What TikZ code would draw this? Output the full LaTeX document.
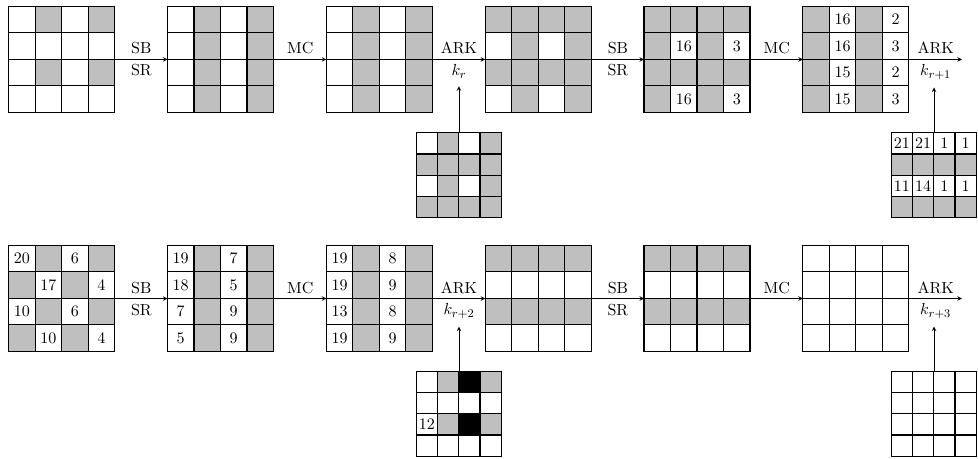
\documentclass[tikz,border=0pt]{standalone}
\usepackage{tikz}

\colorlet{G}{black!25}
\colorlet{W}{white}
\colorlet{B}{black}

% 4x4 state: name, centre, cell size, cells row by row (fill/number)
\newcommand{\stategrid}[4]{%
  \node[minimum size=4*#3, inner sep=0pt] (#1) at (#2) {};
  \foreach \f/\t [count=\k from 0] in {#4} {
    \pgfmathsetmacro{\cx}{mod(\k,4)*#3}
    \pgfmathsetmacro{\cy}{-floor(\k/4)*#3}
    \draw[cellline, fill=\f] ([shift={(\cx,\cy)}]#1.north west) rectangle ++(#3,-#3);
    \node[cellnum] at ([shift={(\cx+0.5*#3,\cy-0.5*#3)}]#1.north west) {\t};
  }%
}

\begin{document}
\begin{tikzpicture}[x=1pt, y=1pt, font=\fontsize{10.95}{13}\selectfont,
    cellline/.style={thick},
    cellnum/.style={inner sep=0pt},
    flow/.style={->, >=stealth},
    keyflow/.style={->, >=stealth, shorten >=2pt}]
  \useasboundingbox (0,0) rectangle (668,313.5);

  % Round r and r+1
  \stategrid{a1}{42.3,272.9}{18.1}{W/,G/,W/,G/, W/,W/,W/,W/, W/,G/,W/,G/, W/,W/,W/,W/}
  \stategrid{a2}{150.8,272.9}{18.1}{W/,G/,W/,G/, W/,G/,W/,G/, W/,G/,W/,G/, W/,G/,W/,G/}
  \stategrid{a3}{259.3,272.9}{18.1}{W/,G/,W/,G/, W/,G/,W/,G/, W/,G/,W/,G/, W/,G/,W/,G/}
  \stategrid{a4}{367.8,272.9}{18.1}{G/,G/,G/,G/, W/,G/,W/,G/, G/,G/,G/,G/, W/,G/,W/,G/}
  \stategrid{a5}{476.3,272.9}{18.1}{G/,G/,G/,G/, G/,W/16,G/,W/3, G/,G/,G/,G/, G/,W/16,G/,W/3}
  \stategrid{a6}{584.8,272.9}{18.1}{G/,W/16,G/,W/2, G/,W/16,G/,W/3, G/,W/15,G/,W/2, G/,W/15,G/,W/3}
  \coordinate (aend) at (657,272.9);

  \draw[flow] (a1.east) -- node[above] (sb1) {SB} node[below] (sr1) {SR} (a2.west);
  \draw[flow] (a2.east) -- node[above] (mc1) {MC} (a3.west);
  \draw[flow] (a3.east) -- node[above] (ark1) {ARK} node[below] (kr1) {$k_r$} (a4.west);
  \draw[flow] (a4.east) -- node[above] (sb2) {SB} node[below] (sr2) {SR} (a5.west);
  \draw[flow] (a5.east) -- node[above] (mc2) {MC} (a6.west);
  \draw[flow] (a6.east) -- node[above] (ark2) {ARK} node[below] (kr2) {$k_{r+1}$} (aend);

  % Round keys
  \stategrid{key1}{313.5,193.6}{14.5}{W/,G/,W/,G/, G/,G/,G/,G/, W/,G/,W/,G/, G/,G/,G/,G/}
  \stategrid{key2}{638,193.6}{14.5}{W/21,W/21,W/1,W/1, G/,G/,G/,G/, W/11,W/14,W/1,W/1, G/,G/,G/,G/}
  \draw[keyflow] (key1.north) -- (key1.north |- kr1.south);
  \draw[keyflow] (key2.north) -- (key2.north |- kr2.south);

  % Round r+2 and r+3
  \stategrid{b1}{42.3,109.6}{18.1}{W/20,G/,W/6,G/, G/,W/17,G/,W/4, W/10,G/,W/6,G/, G/,W/10,G/,W/4}
  \stategrid{b2}{150.8,109.6}{18.1}{W/19,G/,W/7,G/, W/18,G/,W/5,G/, W/7,G/,W/9,G/, W/5,G/,W/9,G/}
  \stategrid{b3}{259.3,109.6}{18.1}{W/19,G/,W/8,G/, W/19,G/,W/9,G/, W/13,G/,W/8,G/, W/19,G/,W/9,G/}
  \stategrid{b4}{367.8,109.6}{18.1}{G/,G/,G/,G/, W/,W/,W/,W/, G/,G/,G/,G/, W/,W/,W/,W/}
  \stategrid{b5}{476.3,109.6}{18.1}{G/,G/,G/,G/, W/,W/,W/,W/, G/,G/,G/,G/, W/,W/,W/,W/}
  \stategrid{b6}{584.8,109.6}{18.1}{W/,W/,W/,W/, W/,W/,W/,W/, W/,W/,W/,W/, W/,W/,W/,W/}
  \coordinate (bend) at (657,109.6);

  \draw[flow] (b1.east) -- node[above] (sb3) {SB} node[below] (sr3) {SR} (b2.west);
  \draw[flow] (b2.east) -- node[above] (mc3) {MC} (b3.west);
  \draw[flow] (b3.east) -- node[above] (ark3) {ARK} node[below] (kr3) {$k_{r+2}$} (b4.west);
  \draw[flow] (b4.east) -- node[above] (sb4) {SB} node[below] (sr4) {SR} (b5.west);
  \draw[flow] (b5.east) -- node[above] (mc4) {MC} (b6.west);
  \draw[flow] (b6.east) -- node[above] (ark4) {ARK} node[below] (kr4) {$k_{r+3}$} (bend);

  \stategrid{key3}{313.5,30.7}{14.5}{W/,G/,B/,G/, W/,W/,W/,W/, W/12,G/,B/,G/, W/,W/,W/,W/}
  \stategrid{key4}{638,30.7}{14.5}{W/,W/,W/,W/, W/,W/,W/,W/, W/,W/,W/,W/, W/,W/,W/,W/}
  \draw[keyflow] (key3.north) -- (key3.north |- kr3.south);
  \draw[keyflow] (key4.north) -- (key4.north |- kr4.south);
\end{tikzpicture}
\end{document}
